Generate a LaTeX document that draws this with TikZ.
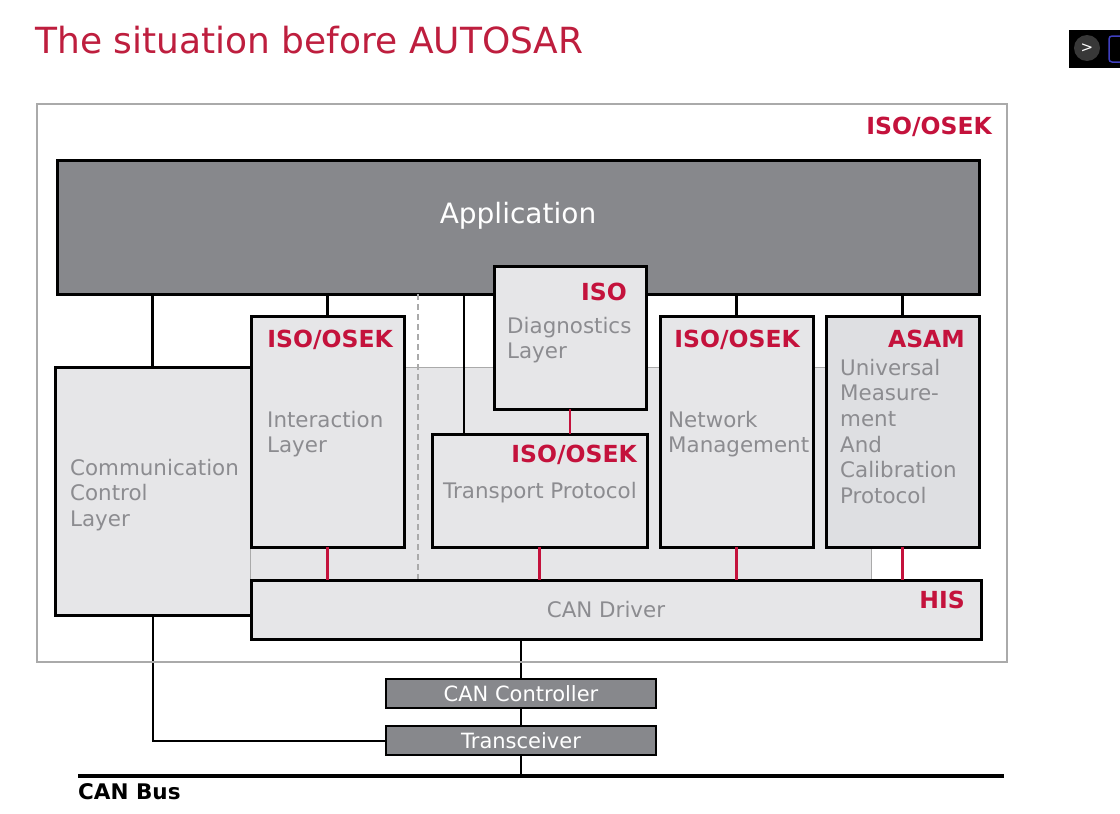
\documentclass[tikz,border=0pt]{standalone}
\usepackage{fontspec}
\setmainfont{DejaVu Sans}
\pgfdeclarelayer{background}
\pgfsetlayers{background,main}
\definecolor{tagred}{RGB}{196,18,60}
\definecolor{titlered}{RGB}{190,30,62}
\definecolor{txtgray}{RGB}{140,140,144}
\definecolor{boxgray}{RGB}{230,230,232}
\definecolor{asamgray}{RGB}{222,223,226}
\definecolor{darkgray}{RGB}{135,136,140}
\definecolor{outergray}{RGB}{170,170,170}
\newcommand{\mlines}[1]{\begin{tabular}[t]{@{}l@{}}#1\end{tabular}}
\tikzset{
  box/.style={draw=black, line width=3pt, fill=boxgray, inner sep=0pt, outer sep=0pt, anchor=north west},
  darkbox/.style={draw=black, line width=2.5pt, fill=darkgray, inner sep=0pt, outer sep=0pt, anchor=north west},
  wire/.style={line width=2.5pt, black},
  rwire/.style={line width=2.5pt, tagred},
  lbl/.style={inner sep=0pt, anchor=base west, text=txtgray, font=\fontsize{21.4}{25.7}\selectfont},
  tag/.style={inner sep=0pt, anchor=base east, text=tagred, font=\bfseries\fontsize{23.5}{26}\selectfont},
  ctext/.style={text=white, font=\fontsize{21}{24}\selectfont, inner sep=0pt, anchor=base},
}
\begin{document}
\begin{tikzpicture}[x=1pt,y=-1pt]
\useasboundingbox (0,0) rectangle (1120,814);
\begin{pgfonlayer}{background}
\fill[white] (0,0) rectangle (1120,814);
\end{pgfonlayer}

% title
\node[inner sep=0pt, anchor=base west, text=titlered, font=\fontsize{36}{40}\selectfont] (title) at (35,53) {The situation before AUTOSAR};

% player control (screenshot artefact)
\fill[black] (1069,30) rectangle (1120,68);
\fill[black!78] (1087,48) circle (13);
\node[text=white, font=\fontsize{15}{15}\selectfont, inner sep=0pt] (ctl) at (1087,48) {>};
\draw[rounded corners=3pt, line width=1.5pt, blue!50!gray] (1109,36) rectangle (1126,62);

% outer ISO/OSEK frame
\node[draw=outergray, line width=2pt, minimum width=970pt, minimum height=558pt, inner sep=0pt, anchor=north west] (outer) at (36,103) {};
\node[tag] (tagouter) at (992,134) {ISO/OSEK};

% background region
\node[draw=outergray, line width=1pt, fill=boxgray, minimum width=621pt, minimum height=213pt, inner sep=0pt, anchor=north west] (bg) at (250,367) {};

% communication control layer
\node[fill=boxgray, minimum width=195pt, minimum height=248pt, inner sep=0pt, outer sep=0pt, anchor=north west] (comm) at (55,367) {};
\draw[line width=3pt] (comm.north east) -- (comm.north west) -- (comm.south west) -- (comm.south east);
\node[lbl] (commtxt) at (70,475) {\mlines{Communication\\Control\\Layer}};

% application
\node[darkbox, line width=3pt, minimum width=922pt, minimum height=134pt] (app) at (57,160) {};
\node[text=white, font=\fontsize{28}{30}\selectfont, inner sep=0pt, anchor=base] (apptxt) at (518,223) {Application};

% dashed separator
\coordinate (dtop) at ([xshift=361pt]app.south west);
\draw[outergray, line width=1.5pt, dash pattern=on 6pt off 4pt] (dtop) -- (dtop |- bg.south);

% interaction layer
\node[box, minimum width=153pt, minimum height=231pt] (il) at (251,316) {};
\node[tag] (iltag) at (393,347) {ISO/OSEK};
\node[lbl] (iltxt) at (267,427) {\mlines{Interaction\\Layer}};

% transport protocol
\node[box, minimum width=215pt, minimum height=113pt] (tp) at (432,434) {};
\node[tag] (tptag) at (637,462) {ISO/OSEK};
\node[lbl] (tptxt) at (443,498) {Transport Protocol};

% diagnostics
\node[box, minimum width=152pt, minimum height=143pt] (diag) at (494,266) {};
\node[tag] (diagtag) at (627,300) {ISO};
\node[lbl] (diagtxt) at (507,333) {\mlines{Diagnostics\\Layer}};

% network management
\node[box, minimum width=153pt, minimum height=231pt] (nm) at (660,316) {};
\node[tag] (nmtag) at (800,347) {ISO/OSEK};
\node[lbl] (nmtxt) at (668,427) {\mlines{Network\\Management}};

% ASAM
\node[box, fill=asamgray, minimum width=153pt, minimum height=231pt] (asam) at (826,316) {};
\node[tag] (asamtag) at (965,347) {ASAM};
\node[lbl] (asamtxt) at (840,375) {\mlines{Universal\\Measure-\\ment\\And\\Calibration\\Protocol}};

% CAN driver
\node[box, minimum width=730pt, minimum height=59pt] (drv) at (251,580) {};
\node[lbl, anchor=base] (drvtxt) at (606,617) {CAN Driver};
\node[tag] (drvtag) at (965,608) {HIS};

% controller and transceiver
\node[darkbox, minimum width=270pt, minimum height=29pt] (ctrl) at (386,679) {};
\node[ctext] (ctrltxt) at (521,701) {CAN Controller};
\node[darkbox, minimum width=270pt, minimum height=29pt] (trx) at (386,726) {};
\node[ctext] (trxtxt) at (521,748) {Transceiver};

% CAN bus
\coordinate (busL) at (78,776);
\coordinate (busR) at (1004,776);
\draw[line width=4pt] (busL) -- (busR);
\node[inner sep=0pt, anchor=base west, font=\bfseries\fontsize{21.5}{24}\selectfont] (bustxt) at (78,799) {CAN Bus};

% black connectors from application
\draw[wire] (app.south -| comm.north) -- (comm.north);
\draw[wire] (app.south -| il.north) -- (il.north);
\coordinate (tpin) at ([xshift=32pt]tp.north west);
\draw[wire] (app.south -| tpin) -- (tpin);
\draw[wire] (app.south -| nm.north) -- (nm.north);
\draw[wire] (app.south -| asam.north) -- (asam.north);

% red connectors
\draw[rwire] (diag.south) -- (diag.south |- tp.north);
\draw[rwire] (il.south) -- (il.south |- drv.north);
\draw[rwire] (tp.south) -- (tp.south |- drv.north);
\draw[rwire] (nm.south) -- (nm.south |- drv.north);
\draw[rwire] (asam.south) -- (asam.south |- drv.north);

% lower connectors (behind the boxes)
\begin{pgfonlayer}{background}
\draw[wire, line width=2pt] (ctrl.north) -- (ctrl.north |- drv.south);
\draw[wire, line width=2pt] (ctrl.south) -- (trx.north);
\draw[wire, line width=2pt] (trx.south) -- (trx.south |- busL);
\draw[wire, line width=2pt] (comm.south) -- (comm.south |- trx.west) -- (trx.west);
\end{pgfonlayer}
\end{tikzpicture}
\end{document}
